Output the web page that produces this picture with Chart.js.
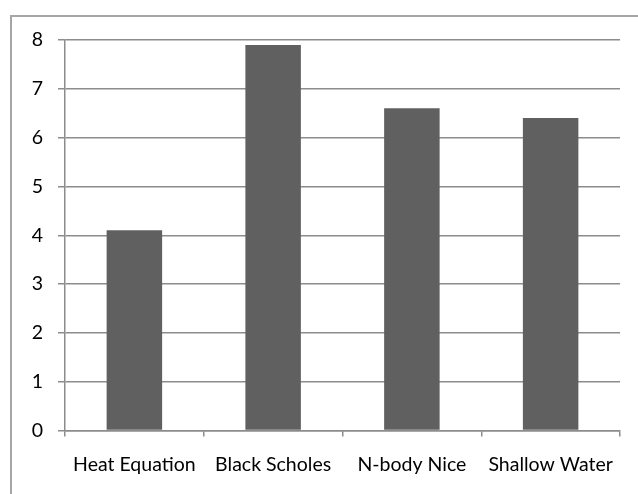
<!DOCTYPE html>
<html>
<head>
<meta charset="utf-8">
<script src="https://cdn.jsdelivr.net/npm/chart.js@4.4.1/dist/chart.umd.min.js"></script>
<style>
  html, body { margin: 0; padding: 0; background: #fff; }
  #wrap { width: 638px; height: 494px; }
</style>
</head>
<body>
<div id="wrap"><canvas id="myChart" width="638" height="494"></canvas></div>
<script>
// data
const categories = ['Heat Equation', 'Black Scholes', 'N-body Nice', 'Shallow Water'];
const speedups = [4.1, 7.9, 6.6, 6.4];
const yTicks = [0, 1, 2, 3, 4, 5, 6, 7, 8];

// outer frame (only the top and left edges show in the picture)
const framePlugin = {
  id: 'frame',
  beforeDraw(chart) {
    const ctx = chart.ctx;
    ctx.save();
    ctx.strokeStyle = '#a6a6a6';
    ctx.lineWidth = 2;
    ctx.beginPath();
    ctx.moveTo(11, 494);
    ctx.lineTo(11, 16);
    ctx.lineTo(638, 16);
    ctx.stroke();
    ctx.restore();
  }
};

const ctx = document.getElementById('myChart').getContext('2d');
new Chart(ctx, {
  type: 'bar',
  data: {
    labels: categories,
    datasets: [{
      data: speedups,
      backgroundColor: '#606060',
      borderWidth: 0,
      barPercentage: 0.4,
      categoryPercentage: 1.0
    }]
  },
  options: {
    responsive: false,
    animation: false,
    devicePixelRatio: 1,
    layout: { padding: { left: 0, top: 40, right: 18, bottom: 0 } },
    plugins: {
      legend: { display: false },
      tooltip: { enabled: false }
    },
    scales: {
      x: {
        grid: {
          offset: true,
          drawOnChartArea: false,
          drawTicks: true,
          tickLength: 6,
          color: '#8c8c8c',
          lineWidth: 1.5
        },
        border: { color: '#8c8c8c', width: 1.5 },
        ticks: {
          color: '#000',
          font: { family: 'Lato', size: 19.5 },
          padding: 17,
          maxRotation: 0,
          autoSkip: false
        },
        afterFit(scale) { scale.height = 63.5; }
      },
      y: {
        min: 0,
        max: 8,
        afterBuildTicks(scale) { scale.ticks = yTicks.map(v => ({ value: v })); },
        grid: {
          color: '#8c8c8c',
          lineWidth: 1.5,
          tickLength: 7
        },
        border: { color: '#8c8c8c', width: 1.5 },
        ticks: {
          color: '#000',
          font: { family: 'Lato', size: 19.5 },
          padding: 15
        },
        afterFit(scale) { scale.width = 65; }
      }
    }
  },
  plugins: [framePlugin]
});
</script>
</body>
</html>
